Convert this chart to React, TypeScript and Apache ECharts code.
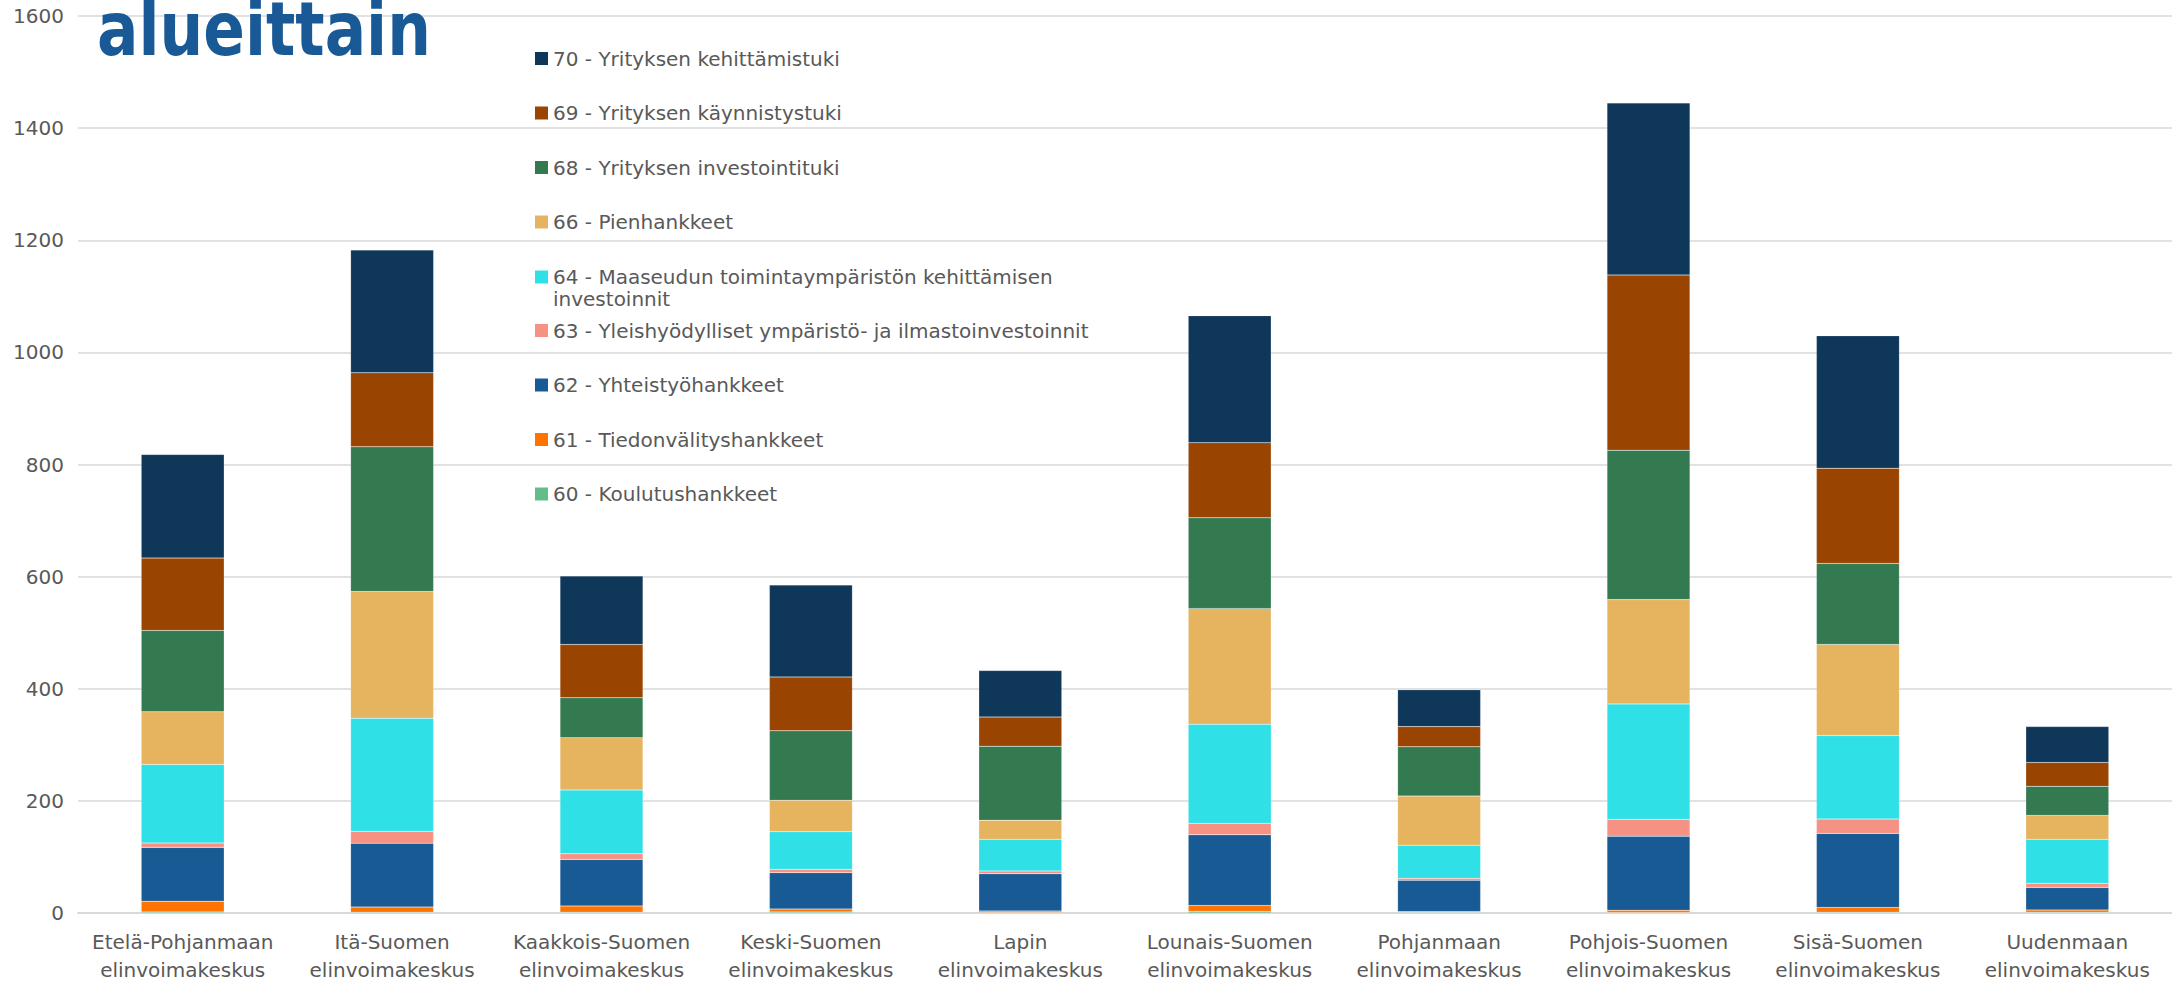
import React, { useEffect, useRef } from "react";
import * as echarts from "echarts";

const categories = [
  "Etelä-Pohjanmaan\nelinvoimakeskus",
  "Itä-Suomen\nelinvoimakeskus",
  "Kaakkois-Suomen\nelinvoimakeskus",
  "Keski-Suomen\nelinvoimakeskus",
  "Lapin\nelinvoimakeskus",
  "Lounais-Suomen\nelinvoimakeskus",
  "Pohjanmaan\nelinvoimakeskus",
  "Pohjois-Suomen\nelinvoimakeskus",
  "Sisä-Suomen\nelinvoimakeskus",
  "Uudenmaan\nelinvoimakeskus",
];

const seriesNames = [
  "60 - Koulutushankkeet",
  "61 - Tiedonvälityshankkeet",
  "62 - Yhteistyöhankkeet",
  "63 - Yleishyödylliset ympäristö- ja ilmastoinvestoinnit",
  "64 - Maaseudun toimintaympäristön kehittämisen investoinnit",
  "66 - Pienhankkeet",
  "68 - Yrityksen investointituki",
  "69 - Yrityksen käynnistystuki",
  "70 - Yrityksen kehittämistuki",
];

const s60 = [2, 1.5, 1.5, 2, 1, 2.8, 1.5, 1, 1.5, 1.5];
const s61 = [19, 9, 11, 5, 2.5, 10.6, 1, 4, 8.5, 4];
const s62 = [96, 114, 83, 65, 66.5, 126, 56, 132, 132, 40];
const s63 = [8, 21, 10, 6, 5, 20.5, 3.5, 30, 25.5, 7.5];
const s64 = [140, 202, 114, 67, 56.5, 177, 59, 206, 149, 78.5];
const s66 = [94, 226, 93, 56, 34, 206, 87.5, 186, 162.5, 42.5];
const s68 = [145, 258, 71.5, 124, 132, 162, 88, 266.5, 144.5, 52];
const s69 = [129, 132, 95, 96, 52, 134, 36, 312.5, 170, 42.5];
const s70 = [185, 219, 122, 164, 83, 226.5, 65.5, 307, 236, 64];

const seriesData = [s60, s61, s62, s63, s64, s66, s68, s69, s70];

const colors = [
  "#62bd88",
  "#ff7300",
  "#175a94",
  "#f69284",
  "#30e0e7",
  "#e6b45f",
  "#347a51",
  "#994400",
  "#0e3759",
];

const yTicks = { min: 0, max: 1600, interval: 200 };
const titleText = "alueittain";

const FONT = "DejaVu Sans";

export default function App() {
  const ref = useRef<HTMLDivElement>(null);

  useEffect(() => {
    if (!ref.current) return;
    const chart = echarts.init(ref.current, null, { renderer: "svg" });

    const legendText = {
      fontFamily: FONT,
      fontSize: 20,
      lineHeight: 22,
      color: "#595959",
    };

    const legendBase = {
      orient: "vertical",
      left: 535,
      padding: 0,
      itemGap: 32.5,
      itemWidth: 13,
      itemHeight: 13,
      icon: "rect",
      itemStyle: { borderWidth: 0 },
      textStyle: legendText,
    };

    const option: any = {
      animation: false,
      backgroundColor: "#ffffff",
      grid: {
        left: 78,
        top: 16,
        width: 2104,
        bottom: 71,
        containLabel: false,
      },
      legend: [
        {
          ...legendBase,
          top: 47.5,
          data: [seriesNames[8], seriesNames[7], seriesNames[6], seriesNames[5]],
        },
        {
          ...legendBase,
          top: 266,
          itemHeight: 35,
          icon: "path://M0,0h13v13h-13z M0,35h13",
          formatter: () =>
            "64 - Maaseudun toimintaympäristön kehittämisen\ninvestoinnit",
          data: [seriesNames[4]],
        },
        {
          ...legendBase,
          top: 319.5,
          data: [seriesNames[3], seriesNames[2], seriesNames[1], seriesNames[0]],
        },
      ],
      xAxis: {
        type: "category",
        data: categories,
        axisTick: { show: false },
        axisLine: { lineStyle: { color: "#d9d9d9", width: 2 } },
        axisLabel: {
          interval: 0,
          fontFamily: FONT,
          fontSize: 20,
          lineHeight: 28,
          color: "#595959",
          margin: 15,
        },
      },
      yAxis: {
        type: "value",
        min: yTicks.min,
        max: yTicks.max,
        interval: yTicks.interval,
        axisLine: { show: false },
        axisTick: { show: false },
        splitLine: { lineStyle: { color: "#d9d9d9", width: 1.5 } },
        axisLabel: {
          fontFamily: FONT,
          fontSize: 20,
          color: "#595959",
          margin: 14,
          formatter: (v: number) => String(v),
        },
      },
      graphic: [
        {
          type: "text",
          x: 97,
          y: 29,
          scaleX: 0.83,
          z: 100,
          style: {
            text: titleText,
            fill: "#195a96",
            fontFamily: FONT,
            fontWeight: "bold",
            fontSize: 74,
            verticalAlign: "middle",
            align: "left",
          },
        },
      ],
      series: seriesNames.map((name, i) => ({
        name,
        type: "bar",
        stack: "total",
        barWidth: 83,
        data: seriesData[i],
        itemStyle: {
          color: colors[i],
          borderColor: "rgba(255,255,255,0.3)",
          borderWidth: 0.5,
        },
      })),
    };

    chart.setOption(option);
    return () => chart.dispose();
  }, []);

  return (
    <div
      ref={ref}
      style={{ position: "absolute", left: 0, top: 0, width: 2172, height: 984 }}
    />
  );
}
